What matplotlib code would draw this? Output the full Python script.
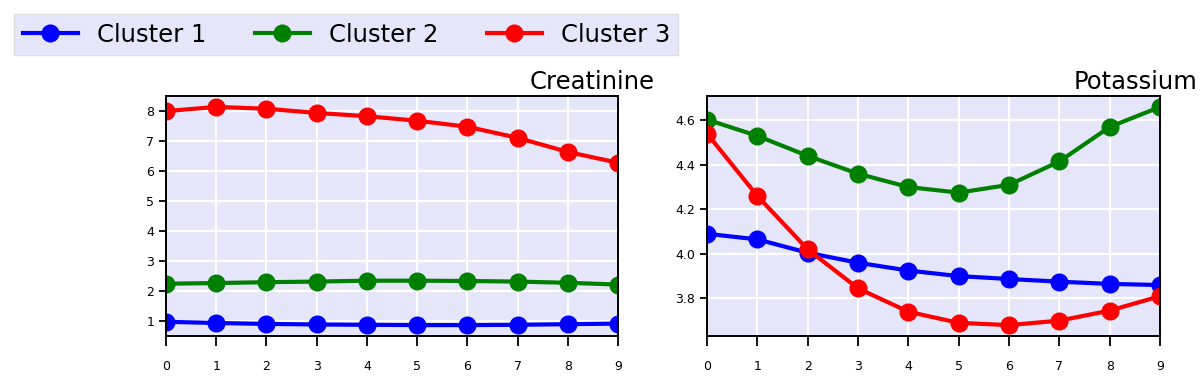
import numpy as np
import matplotlib
matplotlib.use("Agg")
import matplotlib.pyplot as plt

steps = list(range(10))
cluster_names = ["Cluster 1", "Cluster 2", "Cluster 3"]
cluster_colors = ["blue", "green", "red"]

creatinine_c1 = [0.98, 0.94, 0.91, 0.89, 0.88, 0.87, 0.87, 0.88, 0.90, 0.92]
creatinine_c2 = [2.25, 2.27, 2.30, 2.32, 2.35, 2.35, 2.34, 2.32, 2.28, 2.22]
creatinine_c3 = [8.00, 8.14, 8.08, 7.94, 7.83, 7.68, 7.48, 7.11, 6.64, 6.28]

potassium_c1 = [4.09, 4.065, 4.005, 3.96, 3.925, 3.90, 3.887, 3.875, 3.865, 3.86]
potassium_c2 = [4.603, 4.53, 4.44, 4.36, 4.30, 4.275, 4.31, 4.415, 4.57, 4.66]
potassium_c3 = [4.54, 4.26, 4.02, 3.845, 3.74, 3.69, 3.68, 3.70, 3.745, 3.81]

panels = [("Creatinine", [creatinine_c1, creatinine_c2, creatinine_c3]),
          ("Potassium", [potassium_c1, potassium_c2, potassium_c3])]

fig = plt.figure(figsize=(12, 3.81), dpi=100)
positions = [[0.1383, 0.1181, 0.3767, 0.6299], [0.5892, 0.1181, 0.3775, 0.6299]]

for pos, (title, series) in zip(positions, panels):
    ax = fig.add_axes(pos)
    ax.set_facecolor("lavender")
    ax.grid(True, color="white", linewidth=1.5)
    ax.set_axisbelow(True)
    for vals, name, col in zip(series, cluster_names, cluster_colors):
        ax.plot(steps, vals, "-o", color=col, label=name, linewidth=3,
                markersize=12)
    ax.set_xlim(0, 9)
    ax.set_xticks(steps)
    ax.tick_params(axis="x", length=7.5, width=1.3, labelsize=9, pad=10)
    ax.tick_params(axis="y", length=5, width=1.3, labelsize=9)
    for sp in ax.spines.values():
        sp.set_linewidth(1.4)
    ax.text(1.082, 1.01, title, transform=ax.transAxes, ha="right",
            va="bottom", fontsize=17.5)

handles, labels = ax.get_legend_handles_labels()
leg = fig.legend(handles, labels, loc="upper left", bbox_to_anchor=(0.008, 0.975),
                 ncol=3, fontsize=17.5, facecolor="lavender", edgecolor="#dddddd",
                 fancybox=False, columnspacing=2.0, handlelength=2.26,
                 handletextpad=0.78, borderpad=0.35, borderaxespad=0.2)
leg.get_frame().set_alpha(1)

fig.savefig("out.png", dpi=100)
